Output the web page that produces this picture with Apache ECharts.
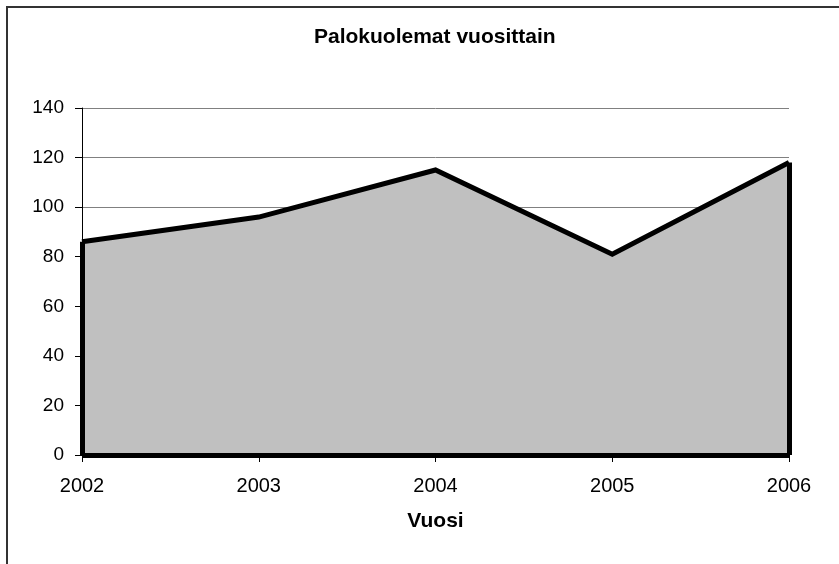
<!DOCTYPE html>
<html>
<head>
<meta charset="utf-8">
<script src="https://cdn.jsdelivr.net/npm/echarts@6/dist/echarts.min.js"></script>
<style>
  html, body { margin: 0; padding: 0; background: #fff; }
  #main { width: 839px; height: 564px; }
</style>
</head>
<body>
<div id="main"></div>
<script>
// vuodet ja palokuolemat
var years = ['2002', '2003', '2004', '2005', '2006'];
var deaths = [86, 96, 115, 81, 118];
var yTicks = { min: 0, max: 140, step: 20 };

var fontFam = '"Liberation Sans", Arial, sans-serif';
var last = years.length - 1;

var chart = echarts.init(document.getElementById('main'));
chart.setOption({
  animation: false,
  textStyle: { fontFamily: fontFam },
  title: {
    text: 'Palokuolemat vuosittain',
    left: 309,
    top: 22,
    textStyle: { fontSize: 21, fontWeight: 'bold', color: '#000', fontFamily: fontFam }
  },
  // kehys
  graphic: [{
    type: 'rect',
    shape: { x: 7, y: 7, width: 1000, height: 800 },
    style: { fill: 'none', stroke: '#333', lineWidth: 2 },
    silent: true
  }],
  grid: { left: 82, right: 50, top: 108, bottom: 109 },
  xAxis: {
    type: 'category',
    data: years,
    boundaryGap: false,
    name: 'Vuosi',
    nameLocation: 'middle',
    nameGap: 56,
    nameTextStyle: { fontSize: 21, fontWeight: 'bold', color: '#000', fontFamily: fontFam },
    axisLine: { lineStyle: { color: '#000', width: 1 } },
    axisTick: { show: true, length: 7, inside: false, lineStyle: { color: '#000', width: 1 } },
    axisLabel: { fontSize: 20, color: '#000', margin: 21, fontFamily: fontFam },
    splitLine: { show: false }
  },
  yAxis: {
    type: 'value',
    min: yTicks.min,
    max: yTicks.max,
    interval: yTicks.step,
    axisLine: { show: true, lineStyle: { color: '#000', width: 1 } },
    axisTick: { show: true, length: 7, lineStyle: { color: '#000', width: 1 } },
    axisLabel: { fontSize: 19, color: '#000', margin: 18, fontFamily: fontFam },
    splitLine: { show: true, lineStyle: { color: '#808080', width: 1 } }
  },
  series: [{
    type: 'line',
    data: deaths,
    symbol: 'none',
    lineStyle: { color: '#000', width: 5, join: 'miter' },
    areaStyle: { color: '#C0C0C0', opacity: 1 },
    markLine: {
      silent: true,
      symbol: 'none',
      label: { show: false },
      lineStyle: { color: '#000', width: 5, type: 'solid' },
      data: [
        [{ coord: [years[0], 0] }, { coord: [years[0], deaths[0]] }],
        [{ coord: [years[last], 0] }, { coord: [years[last], deaths[last]] }],
        [{ coord: [years[0], 0] }, { coord: [years[last], 0] }]
      ]
    }
  }]
});
</script>
</body>
</html>
